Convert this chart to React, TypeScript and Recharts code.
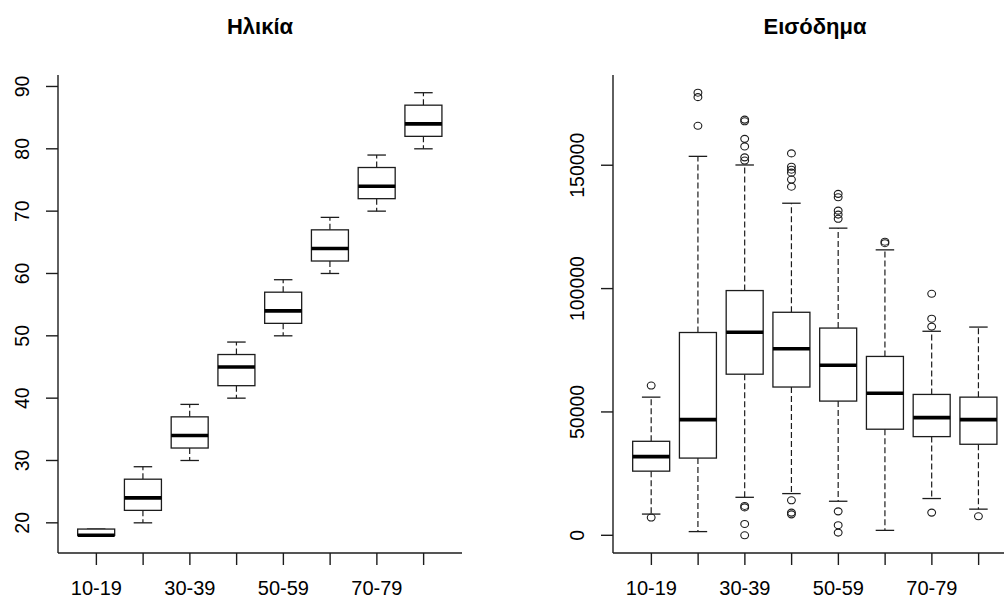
import { ComposedChart, Bar, XAxis, YAxis } from 'recharts';

// age groups shared by both panels
const groups = ['10-19', '20-29', '30-39', '40-49', '50-59', '60-69', '70-79', '80-89'];

// Ηλικία: five-number summaries per group
const ageLow = [18, 20, 30, 40, 50, 60, 70, 80];
const ageQ1 = [18, 22, 32, 42, 52, 62, 72, 82];
const ageMed = [18, 24, 34, 45, 54, 64, 74, 84];
const ageQ3 = [19, 27, 37, 47, 57, 67, 77, 87];
const ageHigh = [19, 29, 39, 49, 59, 69, 79, 89];
const ageOut: number[][] = [[], [], [], [], [], [], [], []];
const ageTicks = [20, 30, 40, 50, 60, 70, 80, 90];

// Εισόδημα: five-number summaries and outliers per group
const incLow = [8600, 1500, 15400, 16900, 13800, 2000, 14900, 10600];
const incQ1 = [26000, 31300, 65300, 60100, 54400, 43000, 40000, 36900];
const incMed = [31900, 46900, 82300, 75600, 68900, 57600, 47700, 46900];
const incQ3 = [38100, 82200, 99200, 90400, 84000, 72500, 57100, 56000];
const incHigh = [56000, 153600, 150100, 134600, 124500, 115700, 82700, 84400];
const incOut: number[][] = [
  [60700, 7200],
  [179400, 177600, 166000],
  [168500, 167800, 160700, 157600, 153200, 151900, 11900, 11300, 4600, 0],
  [154800, 149400, 148200, 147000, 144200, 141300, 14200, 9200, 8500],
  [138400, 137000, 131600, 130000, 128300, 9700, 4100, 1100],
  [119000, 118400],
  [97900, 87800, 84600, 9200],
  [7700],
];
const incTicks = [0, 50000, 100000, 150000];

const INK = '#1c1c1c';
const FONT = '"Liberation Sans", Arial, sans-serif';

type Row = { group: string; lo: number; q1: number; med: number; q3: number; hi: number; out: number[] };

function buildRows(lo: number[], q1: number[], med: number[], q3: number[], hi: number[], out: number[][]): Row[] {
  return groups.map((g, i) => ({ group: g, lo: lo[i], q1: q1[i], med: med[i], q3: q3[i], hi: hi[i], out: out[i] }));
}

// R-style range: data extent padded by 4% on each side
function padDomain(rows: Row[]): [number, number] {
  const all = rows.flatMap((r) => [r.lo, r.hi, ...r.out]);
  const min = Math.min(...all);
  const max = Math.max(...all);
  const pad = (max - min) * 0.04;
  return [min - pad, max + pad];
}

// the bar spans lo..hi, everything else is placed on the same linear scale
function BoxShape(props: any) {
  const { x, y, width, height, payload } = props;
  const top = Math.min(y, y + height);
  const bottom = Math.max(y, y + height);
  const span = payload.hi - payload.lo;
  const py = (v: number) => bottom - ((v - payload.lo) / span) * (bottom - top);
  const cx = x + width / 2;
  const cap = width / 4;
  return (
    <g>
      <line x1={cx} x2={cx} y1={py(payload.q3)} y2={py(payload.hi)} stroke={INK} strokeWidth={1.2} strokeDasharray="6 3" />
      <line x1={cx} x2={cx} y1={py(payload.q1)} y2={py(payload.lo)} stroke={INK} strokeWidth={1.2} strokeDasharray="6 3" />
      <line x1={cx - cap} x2={cx + cap} y1={py(payload.hi)} y2={py(payload.hi)} stroke={INK} strokeWidth={1.3} />
      <line x1={cx - cap} x2={cx + cap} y1={py(payload.lo)} y2={py(payload.lo)} stroke={INK} strokeWidth={1.3} />
      <rect x={x} y={py(payload.q3)} width={width} height={py(payload.q1) - py(payload.q3)} fill="#fff" stroke={INK} strokeWidth={1.3} />
      <line x1={x} x2={x + width} y1={py(payload.med)} y2={py(payload.med)} stroke="#000" strokeWidth={3.6} />
      {payload.out.map((v: number, k: number) => (
        <ellipse key={k} cx={cx} cy={py(v)} rx={3.9} ry={3.5} fill="none" stroke={INK} strokeWidth={1.1} />
      ))}
    </g>
  );
}

function YTick(props: any) {
  const { x, y, payload } = props;
  const tx = x - 22;
  return (
    <text x={tx} y={y} transform={`rotate(-90, ${tx}, ${y})`} textAnchor="middle" dominantBaseline="central"
      fontSize={19.5} fill="#000" fontFamily={FONT}>
      {payload.value}
    </text>
  );
}

function XTick(props: any) {
  const { x, y, payload, index } = props;
  if (index % 2 !== 0) return <g />;
  return (
    <text x={x} y={y + 28} textAnchor="middle" fontSize={20} fill="#000" fontFamily={FONT}>
      {payload.value}
    </text>
  );
}

function BoxPanel({ rows, ticks, left, title }: { rows: Row[]; ticks: number[]; left: number; title: string }) {
  const domain = padDomain(rows);
  const axis = { stroke: INK, strokeWidth: 1.4 };
  return (
    <div style={{ position: 'absolute', left, top: 0, width: 500, height: 599 }}>
      <div style={{ position: 'absolute', left: 58, width: 404, top: 16, textAlign: 'center', fontFamily: FONT,
        fontWeight: 'bold', fontSize: 22, lineHeight: '22px', color: '#000' }}>
        {title}
      </div>
      <ComposedChart width={500} height={599} data={rows} margin={{ top: 75, right: 38, bottom: 0, left: 0 }}>
        <XAxis dataKey="group" height={46} padding={{ left: 15, right: 15 }} interval={0}
          tickSize={12} tickLine={axis} axisLine={axis} tick={<XTick />} />
        <XAxis xAxisId="top" orientation="top" dataKey="group" height={0} tick={false} tickLine={false} axisLine={axis} />
        <YAxis type="number" domain={domain} ticks={ticks} width={58} tickSize={12}
          tickLine={axis} axisLine={axis} tick={<YTick />} />
        <YAxis yAxisId="right" orientation="right" type="number" domain={domain} width={0}
          tick={false} tickLine={false} axisLine={axis} />
        <Bar dataKey={(r: Row) => [r.lo, r.hi]} shape={<BoxShape />} isAnimationActive={false} />
      </ComposedChart>
    </div>
  );
}

const ageRows = buildRows(ageLow, ageQ1, ageMed, ageQ3, ageHigh, ageOut);
const incRows = buildRows(incLow, incQ1, incMed, incQ3, incHigh, incOut);

export default function App() {
  return (
    <div style={{ position: 'fixed', left: 0, top: 0, width: 1004, height: 599, overflow: 'hidden', background: '#fff' }}>
      <BoxPanel rows={ageRows} ticks={ageTicks} left={0} title="Ηλικία" />
      <BoxPanel rows={incRows} ticks={incTicks} left={555} title="Εισόδημα" />
    </div>
  );
}
